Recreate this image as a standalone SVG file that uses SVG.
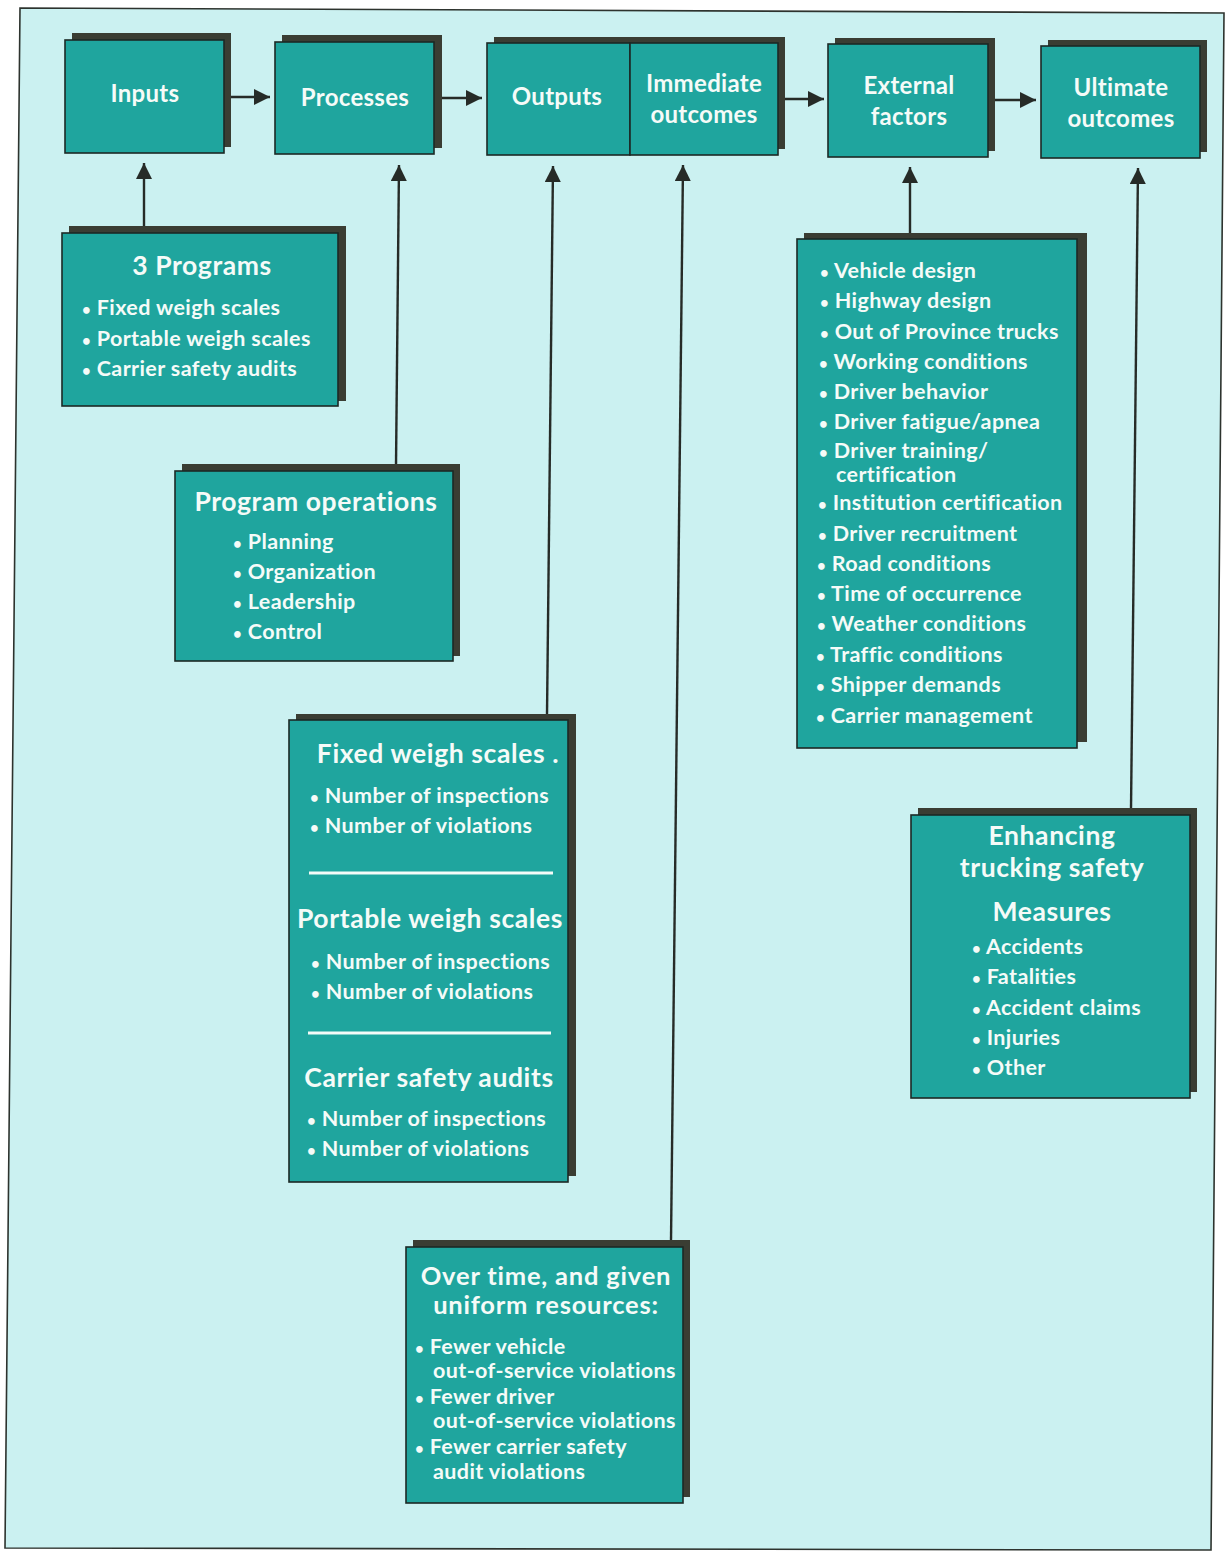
<svg xmlns="http://www.w3.org/2000/svg" width="1225" height="1552" viewBox="0 0 1225 1552">
<defs>
<style>
.bg{fill:#ffffff}
.frame{fill:#cbf1f1;stroke:#2d332e;stroke-width:1.6}
.sh{fill:#3a3d33}
.box{fill:#1fa59e;stroke:#1c2925;stroke-width:1.6}
.t{font-family:Lato,"Open Sans","DejaVu Sans",sans-serif;font-weight:700;fill:#f5fbf8}
.h{font-size:26.5px;letter-spacing:0.6px;text-anchor:middle}
.h2{font-size:25.5px;letter-spacing:0.8px;text-anchor:middle}
.top{font-size:24px;letter-spacing:0.3px;text-anchor:middle}
.li{font-size:21.5px;letter-spacing:0.4px}
.b{font-size:15px}
.sep{stroke:#f5fbf8;stroke-width:3}
.c{stroke:#262b27;stroke-width:2.4;fill:none}
</style>
<marker id="ah" viewBox="0 0 16 16" refX="16" refY="8" markerWidth="16" markerHeight="16" markerUnits="userSpaceOnUse" orient="auto">
<path d="M0,0 L16,8 L0,16 z" fill="#262b27"/>
</marker>
</defs>
<rect class="bg" x="0" y="0" width="1225" height="1552"/>
<polygon class="frame" points="20,8 1224,13 1211,1550 5,1548"/>

<g id="connectors">
<line class="c" x1="231" y1="97" x2="270" y2="97" marker-end="url(#ah)"/>
<line class="c" x1="442" y1="98" x2="482" y2="98" marker-end="url(#ah)"/>
<line class="c" x1="785" y1="99" x2="824" y2="99" marker-end="url(#ah)"/>
<line class="c" x1="995" y1="100" x2="1036" y2="100" marker-end="url(#ah)"/>
<line class="c" x1="144" y1="227" x2="144" y2="163" marker-end="url(#ah)"/>
<line class="c" x1="396" y1="465" x2="399" y2="165" marker-end="url(#ah)"/>
<line class="c" x1="547" y1="715" x2="553" y2="166" marker-end="url(#ah)"/>
<line class="c" x1="671" y1="1241" x2="683" y2="165" marker-end="url(#ah)"/>
<line class="c" x1="910" y1="234" x2="910" y2="167" marker-end="url(#ah)"/>
<line class="c" x1="1131" y1="809" x2="1138" y2="168" marker-end="url(#ah)"/>
</g>

<g id="inputs">
<rect class="sh" x="72" y="33" width="159" height="114"/>
<rect class="box" x="65" y="40" width="159" height="113"/>
<text class="t top" x="145" y="102">Inputs</text>
</g>

<g id="processes">
<rect class="sh" x="282" y="35" width="160" height="113"/>
<rect class="box" x="275" y="42" width="159" height="112"/>
<text class="t top" x="355" y="106">Processes</text>
</g>

<g id="outputs">
<rect class="sh" x="494" y="37" width="291" height="112"/>
<rect class="box" x="487" y="43" width="143" height="112"/>
<text class="t top" x="557" y="105">Outputs</text>
</g>

<g id="immediate-outcomes">
<rect class="box" x="630" y="43" width="148" height="112"/>
<text class="t top" x="704" y="92">Immediate</text>
<text class="t top" x="704" y="123">outcomes</text>
</g>

<g id="external-factors">
<rect class="sh" x="835" y="38" width="160" height="113"/>
<rect class="box" x="828" y="44" width="160" height="113"/>
<text class="t top" x="909" y="94">External</text>
<text class="t top" x="909" y="125">factors</text>
</g>

<g id="ultimate-outcomes">
<rect class="sh" x="1048" y="40" width="159" height="112"/>
<rect class="box" x="1041" y="46" width="159" height="112"/>
<text class="t top" x="1121" y="96">Ultimate</text>
<text class="t top" x="1121" y="127">outcomes</text>
</g>

<g id="three-programs">
<rect class="sh" x="69" y="226" width="277" height="175"/>
<rect class="box" x="62" y="233" width="276" height="173"/>
<text class="t h" x="202" y="275">3 Programs</text>
<text class="t li" x="82" y="315"><tspan class="b">•</tspan> Fixed weigh scales</text>
<text class="t li" x="82" y="346"><tspan class="b">•</tspan> Portable weigh scales</text>
<text class="t li" x="82" y="376"><tspan class="b">•</tspan> Carrier safety audits</text>
</g>

<g id="program-operations">
<rect class="sh" x="182" y="464" width="278" height="192"/>
<rect class="box" x="175" y="471" width="278" height="190"/>
<text class="t h" x="316" y="511">Program operations</text>
<text class="t li" x="233" y="549"><tspan class="b">•</tspan> Planning</text>
<text class="t li" x="233" y="579"><tspan class="b">•</tspan> Organization</text>
<text class="t li" x="233" y="609"><tspan class="b">•</tspan> Leadership</text>
<text class="t li" x="233" y="639"><tspan class="b">•</tspan> Control</text>
</g>

<g id="outputs-measures">
<rect class="sh" x="296" y="714" width="280" height="462"/>
<rect class="box" x="289" y="720" width="279" height="462"/>
<text class="t h" x="438" y="763">Fixed weigh scales .</text>
<text class="t li" x="310" y="803"><tspan class="b">•</tspan> Number of inspections</text>
<text class="t li" x="310" y="833"><tspan class="b">•</tspan> Number of violations</text>
<line class="sep" x1="309" y1="873" x2="553" y2="873"/>
<text class="t h" x="430" y="928">Portable weigh scales</text>
<text class="t li" x="311" y="969"><tspan class="b">•</tspan> Number of inspections</text>
<text class="t li" x="311" y="999"><tspan class="b">•</tspan> Number of violations</text>
<line class="sep" x1="308" y1="1033" x2="551" y2="1033"/>
<text class="t h" x="429" y="1087">Carrier safety audits</text>
<text class="t li" x="307" y="1126"><tspan class="b">•</tspan> Number of inspections</text>
<text class="t li" x="307" y="1156"><tspan class="b">•</tspan> Number of violations</text>
</g>

<g id="external-list">
<rect class="sh" x="804" y="233" width="283" height="509"/>
<rect class="box" x="797" y="239" width="280" height="509"/>
<text class="t li" x="820" y="278"><tspan class="b">•</tspan> Vehicle design</text>
<text class="t li" x="820" y="308"><tspan class="b">•</tspan> Highway design</text>
<text class="t li" x="820" y="339"><tspan class="b">•</tspan> Out of Province trucks</text>
<text class="t li" x="819" y="369"><tspan class="b">•</tspan> Working conditions</text>
<text class="t li" x="819" y="399"><tspan class="b">•</tspan> Driver behavior</text>
<text class="t li" x="819" y="429"><tspan class="b">•</tspan> Driver fatigue/apnea</text>
<text class="t li" x="819" y="458"><tspan class="b">•</tspan> Driver training/</text>
<text class="t li" x="836" y="482">certification</text>
<text class="t li" x="818" y="510"><tspan class="b">•</tspan> Institution certification</text>
<text class="t li" x="818" y="541"><tspan class="b">•</tspan> Driver recruitment</text>
<text class="t li" x="817" y="571"><tspan class="b">•</tspan> Road conditions</text>
<text class="t li" x="817" y="601"><tspan class="b">•</tspan> Time of occurrence</text>
<text class="t li" x="817" y="631"><tspan class="b">•</tspan> Weather conditions</text>
<text class="t li" x="816" y="662"><tspan class="b">•</tspan> Traffic conditions</text>
<text class="t li" x="816" y="692"><tspan class="b">•</tspan> Shipper demands</text>
<text class="t li" x="816" y="723"><tspan class="b">•</tspan> Carrier management</text>
</g>

<g id="enhancing-safety">
<rect class="sh" x="918" y="808" width="279" height="284"/>
<rect class="box" x="911" y="815" width="279" height="283"/>
<text class="t h" x="1052" y="845">Enhancing</text>
<text class="t h" x="1052" y="877">trucking safety</text>
<text class="t h" x="1052" y="921">Measures</text>
<text class="t li" x="972" y="954"><tspan class="b">•</tspan> Accidents</text>
<text class="t li" x="972" y="984"><tspan class="b">•</tspan> Fatalities</text>
<text class="t li" x="972" y="1015"><tspan class="b">•</tspan> Accident claims</text>
<text class="t li" x="972" y="1045"><tspan class="b">•</tspan> Injuries</text>
<text class="t li" x="972" y="1075"><tspan class="b">•</tspan> Other</text>
</g>

<g id="over-time">
<rect class="sh" x="413" y="1240" width="277" height="257"/>
<rect class="box" x="406" y="1247" width="277" height="256"/>
<text class="t h2" x="546" y="1285">Over time, and given</text>
<text class="t h2" x="546" y="1314">uniform resources:</text>
<text class="t li" x="415" y="1354"><tspan class="b">•</tspan> Fewer vehicle</text>
<text class="t li" x="433" y="1378">out-of-service violations</text>
<text class="t li" x="415" y="1404"><tspan class="b">•</tspan> Fewer driver</text>
<text class="t li" x="433" y="1428">out-of-service violations</text>
<text class="t li" x="415" y="1454"><tspan class="b">•</tspan> Fewer carrier safety</text>
<text class="t li" x="433" y="1479">audit violations</text>
</g>
</svg>
